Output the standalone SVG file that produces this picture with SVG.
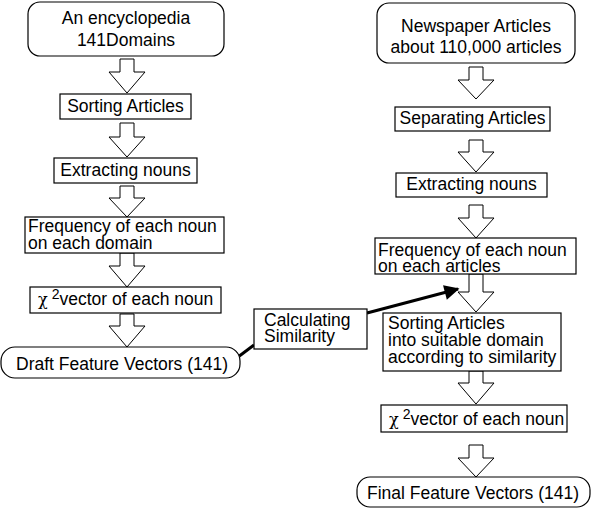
<svg xmlns="http://www.w3.org/2000/svg" width="591" height="508" viewBox="0 0 591 508">
<style>
.b{fill:#fff;stroke:#000;stroke-width:1.2}
.t{font-family:"Liberation Sans",Arial,sans-serif;font-size:17.5px;fill:#000}
.c{text-anchor:middle}
.ar{fill:#fff;stroke:#000;stroke-width:1}
.ln{stroke:#000;stroke-width:3;fill:none}
</style>
<defs>
<marker id="ah" viewBox="0 0 10 10" refX="9" refY="5" markerWidth="6.5" markerHeight="5" orient="auto" markerUnits="strokeWidth">
<path d="M0,0 L10,5 L0,10 z" fill="#000"/>
</marker>
</defs>
<rect width="591" height="508" fill="#fff"/>
<g id="connectors">
<path class="ar" d="M120,59 H134 V72 H145 L127,93 L109,72 H120 Z"/>
<path class="ar" d="M120,123 H134 V137 H145 L127,157 L109,137 H120 Z"/>
<path class="ar" d="M120,186 H134 V198 H145 L127,217 L109,198 H120 Z"/>
<path class="ar" d="M120,253 H134 V266 H145 L127,287 L109,266 H120 Z"/>
<path class="ar" d="M120,314 H134 V326 H145 L127,347 L109,326 H120 Z"/>
<path class="ar" d="M469,67 H483 V80 H494 L476,99 L458,80 H469 Z"/>
<path class="ar" d="M469,140 H483 V152 H494 L476,172 L458,152 H469 Z"/>
<path class="ar" d="M469,205 H483 V218 H494 L476,238 L458,218 H469 Z"/>
<path class="ar" d="M469,274 H483 V292 H494 L476,312 L458,292 H469 Z"/>
<path class="ar" d="M469,371 H483 V383 H494 L476,404 L458,383 H469 Z"/>
<path class="ar" d="M469,445 H483 V458 H494 L476,477 L458,458 H469 Z"/>
<line class="ln" x1="238" y1="357" x2="254" y2="345"/>
<line class="ln" x1="367" y1="313" x2="458" y2="289" marker-end="url(#ah)"/>
</g>
<g id="n1"><rect class="b" x="28" y="2" width="196" height="54" rx="12"/><text class="t c" x="126" y="24">An encyclopedia</text><text class="t c" x="126" y="46">141Domains</text></g>
<g id="n2"><rect class="b" x="60" y="94" width="131" height="25"/><text class="t c" x="125.5" y="112">Sorting Articles</text></g>
<g id="n3"><rect class="b" x="54" y="158" width="143" height="25"/><text class="t c" x="125.5" y="176">Extracting nouns</text></g>
<g id="n4"><rect class="b" x="25" y="217" width="199" height="36"/><text class="t" x="28" y="232">Frequency of each noun</text><text class="t" x="28" y="249">on each domain</text></g>
<g id="n5"><rect class="b" x="30" y="287" width="191" height="26"/><text class="t" x="38" y="305"><tspan font-family="'DejaVu Serif',serif" font-size="16">χ</tspan><tspan dx="4" dy="-6" font-size="14">2</tspan><tspan dy="6">vector of each noun</tspan></text></g>
<g id="n6"><rect class="b" x="1" y="347" width="239" height="31" rx="14"/><text class="t" x="16" y="370">Draft Feature Vectors (141)</text></g>
<g id="n7"><rect class="b" x="254" y="309" width="113" height="40"/><text class="t" x="264" y="326">Calculating</text><text class="t" x="264" y="342">Similarity</text></g>
<g id="n8"><rect class="b" x="377" y="3" width="198" height="60" rx="12"/><text class="t c" x="476" y="32">Newspaper Articles</text><text class="t c" x="476" y="53">about 110,000 articles</text></g>
<g id="n9"><rect class="b" x="395" y="107" width="155" height="24"/><text class="t c" x="472.5" y="124">Separating Articles</text></g>
<g id="n10"><rect class="b" x="396" y="173" width="151" height="24"/><text class="t c" x="471.5" y="190">Extracting nouns</text></g>
<g id="n11"><rect class="b" x="375" y="238" width="201" height="36"/><text class="t" x="378" y="256">Frequency of each noun</text><text class="t" x="378" y="272">on each articles</text></g>
<g id="n12"><rect class="b" x="383" y="313" width="178" height="58"/><text class="t" x="388" y="329">Sorting Articles</text><text class="t" x="388" y="346">into suitable domain</text><text class="t" x="388" y="363">according to similarity</text></g>
<g id="n13"><rect class="b" x="381" y="405" width="186" height="27"/><text class="t" x="389" y="425"><tspan font-family="'DejaVu Serif',serif" font-size="16">χ</tspan><tspan dx="4" dy="-6" font-size="14">2</tspan><tspan dy="6">vector of each noun</tspan></text></g>
<g id="n14"><rect class="b" x="357" y="477" width="233" height="30" rx="13"/><text class="t" x="367" y="499">Final Feature Vectors (141)</text></g>
</svg>
